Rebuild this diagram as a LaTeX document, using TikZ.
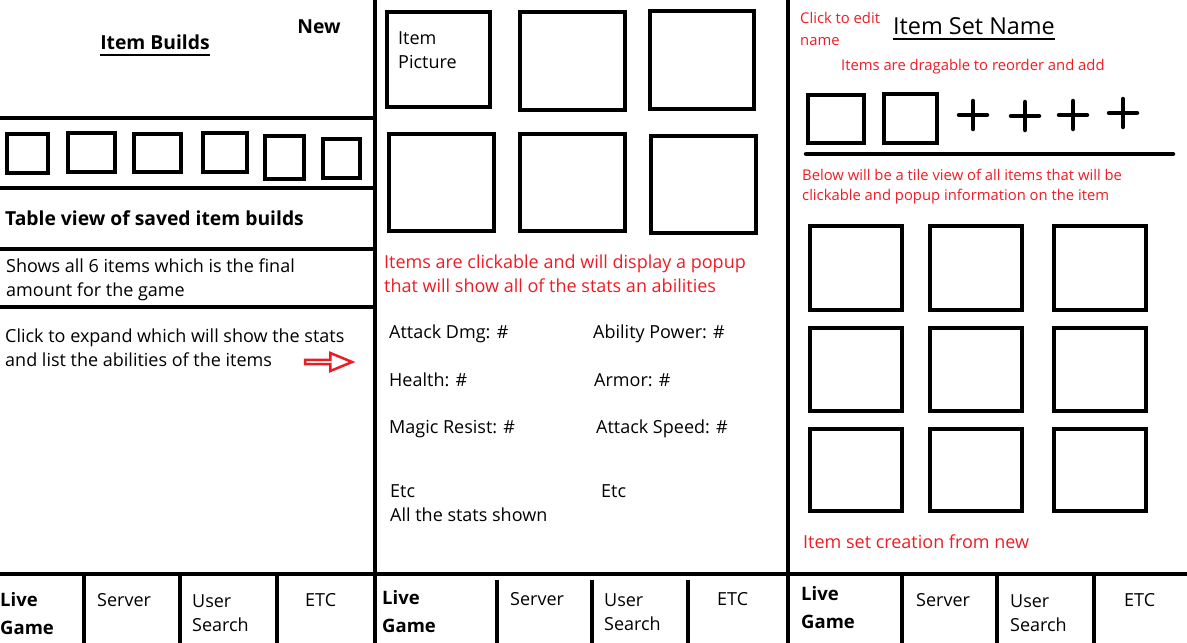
\documentclass[tikz,border=0pt]{standalone}
\usepackage{fontspec}
\setmainfont{Open Sans}
\usetikzlibrary{shapes.arrows}
\definecolor{paintred}{RGB}{237,28,36}

\begin{document}
\begin{tikzpicture}[
			x=1pt, y=-1pt,
			frame/.style={line width=4.5pt},
			tile/.style={line width=4.5pt},
			label/.style={inner sep=0pt, anchor=west, align=left, font=\fontsize{18}{24}\selectfont},
			note/.style={label, text=paintred},
			small note/.style={note, font=\fontsize{14.8}{21}\selectfont},
			heading/.style={inner sep=0pt, font=\fontsize{19.3}{24}\selectfont\bfseries},
			tab/.style={label},
			tab bold/.style={label, font=\fontsize{18.5}{28}\selectfont\bfseries}
			]
			
			\useasboundingbox (0,0) rectangle (1187,643);
			
			% panels
			\draw[frame] (375,0) -- (375,643);
			\draw[frame] (788,0) -- (788,643);
			\draw[frame] (0,574) -- (1187,574);
			\foreach \y in {118,188,249,307}
				\draw[frame] (0,\y) -- (375,\y);
			\foreach \x in {84,180,277,902,997,1094}
				\draw[frame] (\x,574) -- (\x,643);
			\foreach \x in {497,592,688}
				\draw[frame] (\x,580) -- (\x,643);
			
			% left panel: item builds
			\node[heading] (builds) at (155,42) {Item Builds};
			\draw[line width=2pt] ([yshift=-5pt]builds.south west) -- ([yshift=-5pt]builds.south east);
			\node[heading] (new) at (319,27) {New};
			\foreach \a/\b/\c/\d in {7/134/48/173, 68/133/115/172, 134/134/181/172,
				203/133/247/172, 265/136/304/179, 323/139/360/178}
				\draw[tile] (\a,\b) rectangle (\c,\d);
			\node[heading, anchor=west] (table) at (5,218) {Table view of saved item builds};
			\node[label] (shows) at (6,280) {Shows all 6 items which is the final\\amount for the game};
			\node[label] (expand) at (5,348) {Click to expand which will show the stats\\and list the abilities of the items};
			\node[single arrow, draw=paintred, line width=2.5pt, fill=white, inner sep=0pt,
				minimum width=18pt, minimum height=47pt, single arrow head extend=4pt,
				single arrow tip angle=45] (expandarrow) at (326,362) {};
			
			% middle panel: item pictures and stats
			\foreach \a/\b/\c/\d in {387/12/490/107, 520/12/625/110, 650/11/754/109,
				389/134/494/231, 520/134/625/231, 651/136/756/233}
				\draw[tile] (\a,\b) rectangle (\c,\d);
			\node[label] (picture) at (398,50) {Item\\Picture};
			\node[note] (clickable) at (384,274) {Items are clickable and will display a popup\\that will show all of the stats an abilities};
			\node[label] (dmg) at (389,334) {Attack Dmg: \#};
			\node[label] (power) at (593,334) {Ability Power: \#};
			\node[label] (health) at (389,380) {Health: \#};
			\node[label] (armor) at (594,380) {Armor: \#};
			\node[label] (resist) at (389,429) {Magic Resist: \#};
			\node[label] (speed) at (596,429) {Attack Speed: \#};
			\node[label] (etcleft) at (390,503) {Etc\\All the stats shown};
			\node[label] (etcright) at (601,491) {Etc};
			
			% right panel: item set
			\node[small note, font=\fontsize{14.8}{22}\selectfont] (editname) at (800,29) {Click to edit\\name};
			\node[inner sep=0pt, font=\fontsize{23.4}{26}\selectfont] (setname) at (974,26) {Item Set Name};
			\draw[line width=2pt] ([yshift=-4pt]setname.south west) -- ([yshift=-4pt]setname.south east);
			\node[small note] (dragable) at (841,67) {Items are dragable to reorder and add};
			\draw[tile] (808,95) rectangle (864,143);
			\draw[tile] (884,94) rectangle (937,143);
			\foreach \x/\y in {973/115, 1025/116, 1073/115, 1123/113}
				\draw[tile, line cap=round] (\x-14,\y) -- (\x+14,\y) (\x,\y-14) -- (\x,\y+14);
			\draw[tile, line cap=round] (806,154) -- (1173,154);
			\node[small note, font=\fontsize{14.8}{20}\selectfont] (tileview) at (802,187) {Below will be a tile view of all items that will be\\clickable and popup information on the item};
			\foreach \a/\c in {810/902, 930/1022, 1054/1146}
				\foreach \b/\d in {226/310, 328/411, 429/511}
					\draw[tile] (\a,\b) rectangle (\c,\d);
			\node[note] (creation) at (803,542) {Item set creation from new};
			
			% navigation tabs
			\node[tab bold] (live1) at (0,614) {Live\\Game};
			\node[tab] (server1) at (97,600) {Server};
			\node[tab] (search1) at (192,613) {User\\Search};
			\node[tab] (etc1) at (305,600) {ETC};
			\node[tab bold] (live2) at (382,612) {Live\\Game};
			\node[tab] (server2) at (510,599) {Server};
			\node[tab] (search2) at (604,612) {User\\Search};
			\node[tab] (etc2) at (717,599) {ETC};
			\node[tab bold] (live3) at (801,608) {Live\\Game};
			\node[tab] (server3) at (916,600) {Server};
			\node[tab] (search3) at (1010,613) {User\\Search};
			\node[tab] (etc3) at (1124,600) {ETC};
		\end{tikzpicture}
\end{document}
